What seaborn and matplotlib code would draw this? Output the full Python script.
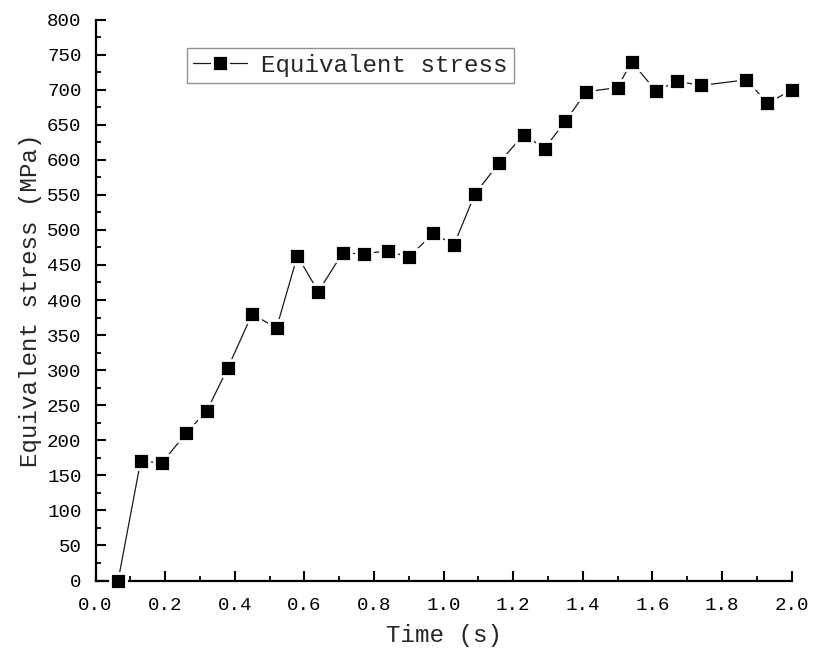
import numpy as np
import pandas as pd
import matplotlib
matplotlib.use("Agg")
import matplotlib.pyplot as plt
from matplotlib.ticker import MultipleLocator
import seaborn as sns

# Equivalent stress history
time_s = [0.065, 0.13, 0.19, 0.26, 0.32, 0.38, 0.45, 0.52, 0.58, 0.64,
          0.71, 0.77, 0.84, 0.90, 0.97, 1.03, 1.09, 1.16, 1.23, 1.29,
          1.35, 1.41, 1.50, 1.54, 1.61, 1.67, 1.74, 1.87, 1.93, 2.00]
stress_mpa = [0, 171, 167, 210, 242, 303, 380, 360, 463, 412,
              467, 466, 470, 461, 495, 479, 551, 596, 636, 616,
              655, 697, 703, 740, 698, 712, 706, 714, 681, 699]

series_label = "Equivalent stress"
x_label = "Time (s)"
y_label = "Equivalent stress (MPa)"

df = pd.DataFrame({"time": time_s, "stress": stress_mpa})

sns.set_style("ticks")
plt.rcParams["font.family"] = ["Liberation Mono", "DejaVu Sans Mono"]

fig = plt.figure(figsize=(8.17, 6.59), dpi=100)
ax = fig.add_axes([0.1169, 0.1191, 0.8521, 0.8513])

sns.lineplot(data=df, x="time", y="stress", ax=ax, color="#1a1a1a",
             linewidth=0.9, marker="s", markersize=11,
             markerfacecolor="black", markeredgecolor="white",
             markeredgewidth=2.0, label=series_label, clip_on=False,
             zorder=3)

ax.set_xlim(0, 2.0)
ax.set_ylim(0, 800)
ax.xaxis.set_major_locator(MultipleLocator(0.2))
ax.xaxis.set_minor_locator(MultipleLocator(0.1))
ax.yaxis.set_major_locator(MultipleLocator(50))
ax.yaxis.set_minor_locator(MultipleLocator(25))
ax.set_xticklabels([f"{v:.1f}" for v in ax.get_xticks()])

for side in ("top", "right"):
    ax.spines[side].set_visible(False)
for side in ("left", "bottom"):
    ax.spines[side].set_linewidth(1.6)
    ax.spines[side].set_color("black")

ax.tick_params(which="major", direction="in", length=7, width=1.5,
               labelsize=13.8, colors="black")
ax.tick_params(which="minor", direction="in", length=3.8, width=1.3,
               colors="black")
ax.tick_params(axis="x", which="major", pad=12)
ax.tick_params(axis="y", which="major", pad=10)

ax.set_xlabel(x_label, fontsize=17.4, labelpad=7)
ax.set_ylabel(y_label, fontsize=17.4, labelpad=4)

leg = ax.legend(loc="upper left", bbox_to_anchor=(0.132, 0.950),
                borderaxespad=0, fontsize=17.4, frameon=True, fancybox=False,
                handlelength=2.2, handletextpad=0.6, borderpad=0.25)
leg.get_frame().set_edgecolor("#777777")
leg.get_frame().set_linewidth(1.0)

fig.savefig("out.png", dpi=100, facecolor="white")
